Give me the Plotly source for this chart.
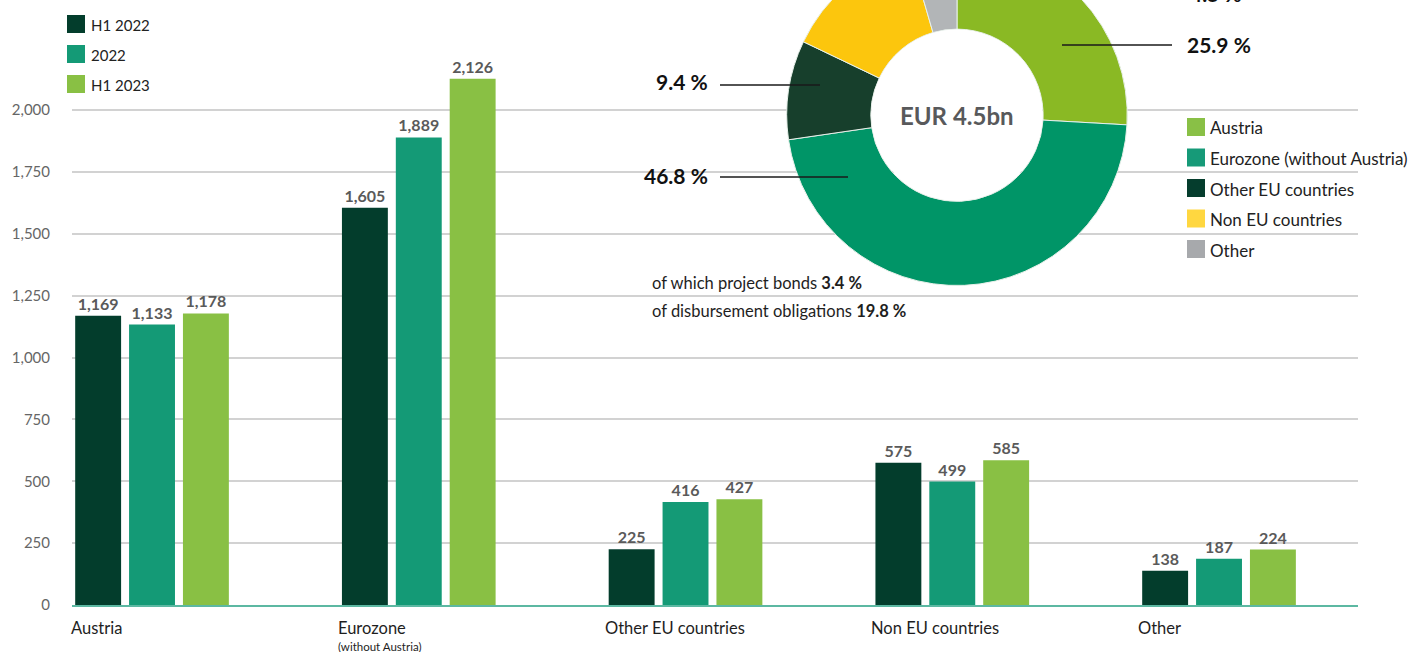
import plotly.graph_objects as go

# ---------------- data ----------------
categories = ["Austria", "Eurozone", "Other EU countries", "Non EU countries", "Other"]
category_notes = ["", "(without Austria)", "", "", ""]
series_names = ["H1 2022", "2022", "H1 2023"]
h1_2022 = [1169, 1605, 225, 575, 138]
fy_2022 = [1133, 1889, 416, 499, 187]
h1_2023 = [1178, 2126, 427, 585, 224]
bar_colors = ["#033d2c", "#149a76", "#89c044"]
y_ticks = [0, 250, 500, 750, 1000, 1250, 1500, 1750, 2000]

pie_labels = ["Austria", "Eurozone (without Austria)", "Other EU countries", "Non EU countries", "Other"]
pie_shares = [25.9, 46.8, 9.4, 13.4, 4.5]
pie_colors = ["#8ab924", "#009567", "#173f2c", "#fcc60d", "#b2b5b7"]
pie_legend_colors = ["#89c046", "#169a78", "#053d2d", "#ffd740", "#a7a9ac"]
pie_total = "EUR 4.5bn"
note_texts = ["of which project bonds", "of disbursement obligations"]
note_values = ["3.4 %", "19.8 %"]

# ---------------- layout geometry ----------------
W, H = 1409, 707
ML, MR, MT, MB = 72, 51, 0, 47
PW, PH = W - ML - MR, H - MT - MB
SHIFT = 55  # page is scrolled so the top of the donut is cut like the reference
FONT = "Lato"


def px(x):
    return (x - ML) / PW


def py(y):
    return (PH - (y + SHIFT - MT)) / PH


series_values = [h1_2022, fy_2022, h1_2023]

fig = go.Figure()
for name, vals, col in zip(series_names, series_values, bar_colors):
    fig.add_trace(go.Bar(
        x=categories, y=vals, name=name, marker=dict(color=col, line=dict(width=0)),
        texttemplate="%{y:,}", textposition="outside", cliponaxis=False,
        textfont=dict(family=FONT, size=16, color="#5a5a5a", weight="bold"),
        showlegend=False,
    ))

# donut
cx, cy, r = 957, 115, 170.5
fig.add_trace(go.Pie(
    labels=pie_labels, values=pie_shares, sort=False, direction="clockwise", rotation=0,
    hole=0.506, marker=dict(colors=pie_colors, line=dict(color="#e8f0ea", width=1)),
    textinfo="none", hoverinfo="label+percent", showlegend=False,
    domain=dict(x=[px(cx - r), px(cx + r)], y=[py(cy + r), min(1.0, py(cy - r))]),
))

shapes = []
annotations = []

# white centre of the donut
shapes.append(dict(type="circle", xref="paper", yref="paper", layer="above",
                   x0=px(cx - 85.5), x1=px(cx + 85.5), y0=py(cy + 85.5), y1=py(cy - 85.5),
                   fillcolor="white", line=dict(width=0)))
annotations.append(dict(xref="paper", yref="paper", x=px(cx), y=py(cy), text=pie_total,
                        xanchor="center", yanchor="middle",
                        showarrow=False, font=dict(family=FONT, size=24, color="#58595b", weight="bold")))

# donut percentage labels with leader lines
pie_label_pos = {
    0: dict(x=1185, y=45, anchor="left", line=(1062, 1172, 45)),
    1: dict(x=710, y=176, anchor="right", line=(720, 848, 177)),
    2: dict(x=710, y=82, anchor="right", line=(720, 820, 85)),
    4: dict(x=1188, y=-7, anchor="left", line=None),
}
for i, pos in pie_label_pos.items():
    annotations.append(dict(xref="paper", yref="paper", x=px(pos["x"]), y=py(pos["y"]),
                            xanchor=pos["anchor"], yanchor="middle", showarrow=False,
                            text=f"{pie_shares[i]:.1f} %",
                            font=dict(family=FONT, size=21, color="#111111", weight="bold")))
    if pos["line"]:
        x0, x1, yl = pos["line"]
        shapes.append(dict(type="line", xref="paper", yref="paper", layer="above",
                           x0=px(x0), x1=px(x1), y0=py(yl), y1=py(yl),
                           line=dict(color="#1a1a1a", width=1.3)))

# notes under the donut
for k, (t, v) in enumerate(zip(note_texts, note_values)):
    annotations.append(dict(xref="paper", yref="paper", x=px(650), y=py(283 + 28 * k),
                            xanchor="left", yanchor="middle", showarrow=False,
                            text=f"{t} <b>{v}</b>",
                            font=dict(family=FONT, size=16.5, color="#1e1e1e")))

# pie legend (right)
for k, (lab, col) in enumerate(zip(pie_labels, pie_legend_colors)):
    yc = 127 + 30.5 * k
    shapes.append(dict(type="rect", xref="paper", yref="paper", layer="above",
                       x0=px(1187), x1=px(1205), y0=py(yc + 9), y1=py(yc - 9),
                       fillcolor=col, line=dict(width=0)))
    annotations.append(dict(xref="paper", yref="paper", x=px(1208), y=py(yc + 1),
                            xanchor="left", yanchor="middle", showarrow=False, text=lab,
                            font=dict(family=FONT, size=17, color="#222222")))

# bar legend (top left)
for k, (name, col) in enumerate(zip(series_names, bar_colors)):
    yc = 24 + 30 * k
    shapes.append(dict(type="rect", xref="paper", yref="paper", layer="above",
                       x0=px(67), x1=px(85), y0=py(yc + 9), y1=py(yc - 9),
                       fillcolor=col, line=dict(width=0)))
    annotations.append(dict(xref="paper", yref="paper", x=px(89), y=py(yc + 1),
                            xanchor="left", yanchor="middle", showarrow=False, text=name,
                            font=dict(family=FONT, size=15, color="#222222")))

# category labels (left aligned under each group)
for cat, note in zip(categories, category_notes):
    annotations.append(dict(xref="x", yref="y", x=cat, y=0, xanchor="left", yanchor="top",
                            xshift=-83, yshift=-11, showarrow=False, text=cat,
                            font=dict(family=FONT, size=16.5, color="#1e1e1e")))
    if note:
        annotations.append(dict(xref="x", yref="y", x=cat, y=0, xanchor="left", yanchor="top",
                                xshift=-83, yshift=-33, showarrow=False, text=note,
                                font=dict(family=FONT, size=11.5, color="#1e1e1e")))

fig.update_layout(
    width=W, height=H,
    margin=dict(l=ML, r=MR, t=MT, b=MB, pad=0),
    paper_bgcolor="white", plot_bgcolor="white",
    barmode="group", bargap=0.394, bargroupgap=0.148,
    font=dict(family=FONT),
    shapes=shapes, annotations=annotations,
    xaxis=dict(type="category", range=[-0.3, 4.521], showticklabels=False, ticks="",
               showgrid=False, showline=True, linecolor="#5cb8a2", linewidth=2, zeroline=False,
               fixedrange=True),
    yaxis=dict(range=[0, PH / 0.2475], tickvals=y_ticks,
               ticktext=[f"{v:,}" for v in y_ticks], ticks="", ticklabelstandoff=21,
               tickfont=dict(family=FONT, size=15, color="#666666"),
               showgrid=True, gridcolor="#d2d2d2", gridwidth=1.5, zeroline=False,
               showline=False, fixedrange=True),
)

post = ("document.body.style.margin='0';document.body.style.overflow='hidden';"
        "var gd=document.getElementById('{plot_id}');gd.style.position='relative';"
        "gd.style.top='-%dpx';" % SHIFT)
fig.write_html("out.html", post_script=post)
